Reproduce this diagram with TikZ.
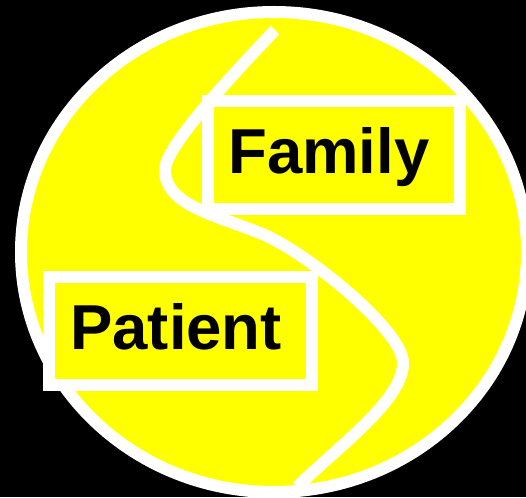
\documentclass[tikz,border=0pt]{standalone}
\usepackage{fontspec}
\setmainfont{Liberation Sans}
\definecolor{discyellow}{RGB}{255,255,0}
\begin{document}
\begin{tikzpicture}[x=1pt,y=-1pt,
  outline/.style={draw=white,line width=12pt},
  box/.style={outline,fill=discyellow,rectangle,inner sep=0pt},
  label/.style={inner sep=0pt,anchor=base west,font=\fontsize{63.5}{68}\selectfont\bfseries,text=black}]
\useasboundingbox (0,0) rectangle (526,497);
\fill[black] (0,0) rectangle (526,497);
% big yellow disc
\filldraw[outline,fill=discyellow] (274,252) ellipse [x radius=253pt, y radius=240pt];
% S-shaped divider
\coordinate (s0) at (275,30);
\coordinate (s1) at (165,170);
\coordinate (s2) at (260,233);
\coordinate (s3) at (403,363);
\coordinate (s4) at (297,487);
\draw[outline] (s0) .. controls (212,96) and (165,150) .. (s1)
  .. controls (165,205) and (215,215) .. (s2)
  .. controls (305,251) and (403,330) .. (s3)
  .. controls (403,400) and (340,445) .. (s4);
% boxes
\node[box,minimum width=252pt,minimum height=108pt] (famBox) at (334,155) {};
\node[box,minimum width=263pt,minimum height=108pt] (patBox) at (180.5,331) {};
% texts
\node[label] (famText) at (228,173) {Family};
\node[label] (patText) at (70,349) {Patient};
\end{tikzpicture}
\end{document}
